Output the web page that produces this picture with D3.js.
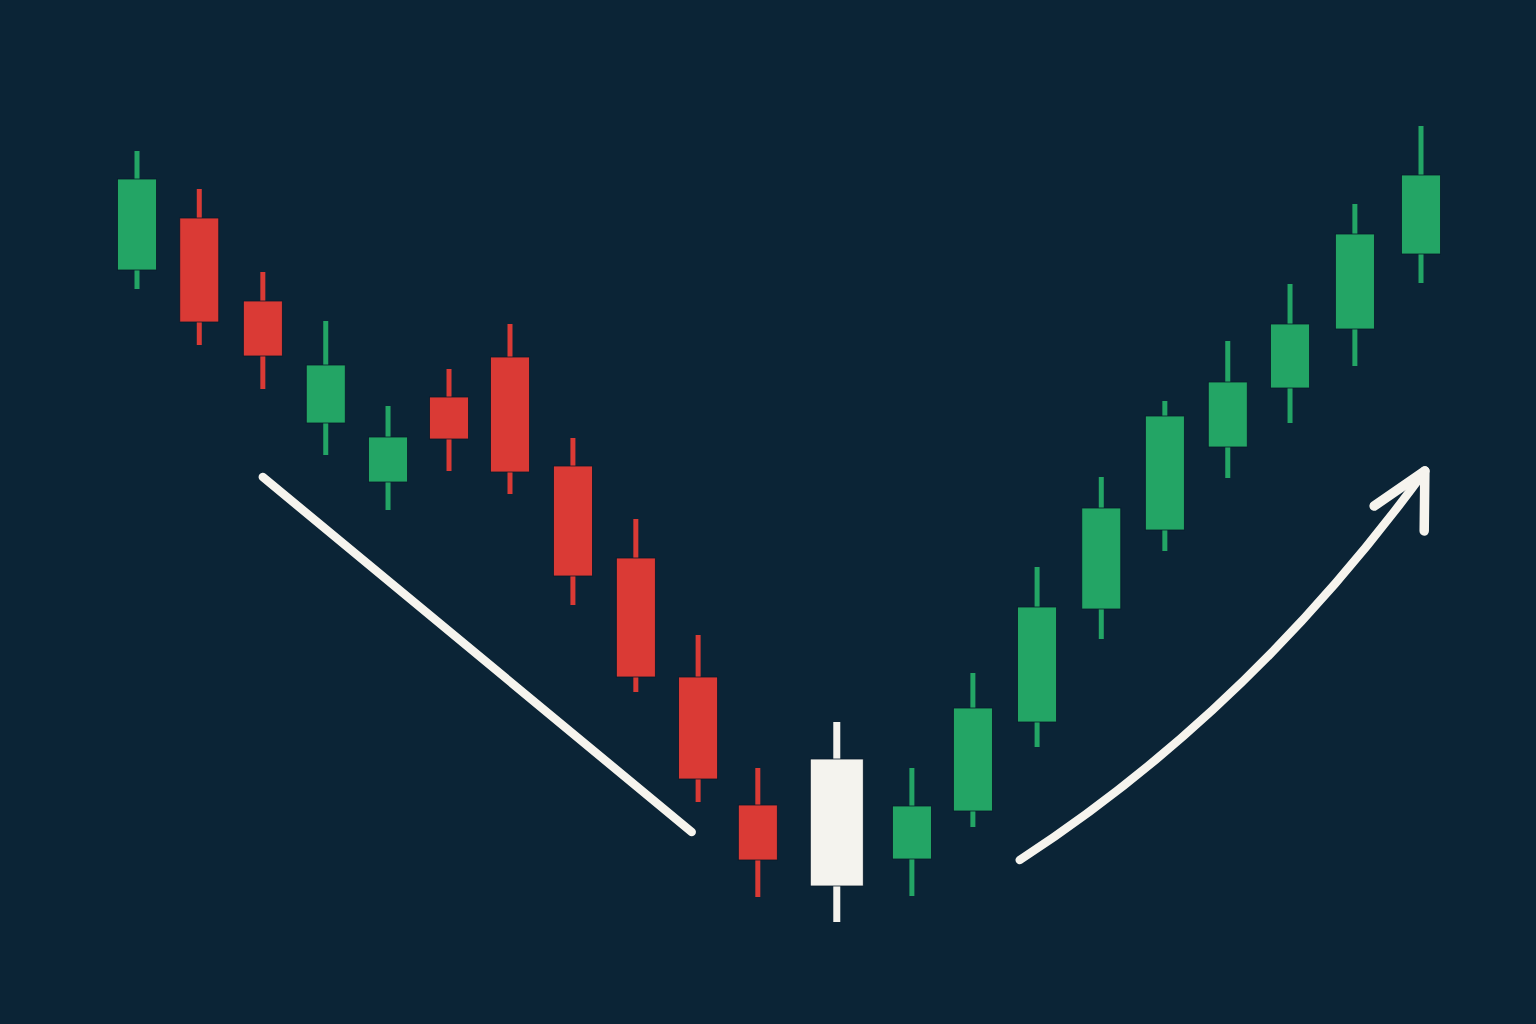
<!DOCTYPE html>
<html>
<head>
<meta charset="utf-8">
<script src="https://cdn.jsdelivr.net/npm/d3@7"></script>
<style>
  html, body { margin: 0; padding: 0; background: #0b2436; }
  svg { display: block; }
</style>
</head>
<body>
<div id="chart"></div>
<script>
// candle slots (slight gap around the pivot candle)
const slot  = [0, 0.97, 1.96, 2.94, 3.91, 4.86, 5.81, 6.79, 7.77, 8.74, 9.67,
               10.9, 12.07, 13.02, 14.02, 15.02, 16.01, 16.99, 17.96, 18.97, 20];
const open  = [73.0, 78.2, 69.9, 57.7, 51.8, 60.3, 64.3, 53.4, 44.2, 32.3, 19.5,
               11.4, 14.1, 18.9, 27.8, 39.1, 47.0, 55.3, 61.2, 67.1, 74.6];
const close = [82.1, 67.8, 64.4, 63.5, 56.3, 56.1, 52.8, 42.4, 32.3, 22.1, 14.0,
               24.1, 19.4, 29.2, 39.3, 49.2, 58.4, 61.8, 67.6, 76.6, 82.5];
const high  = [84.9, 81.1, 72.8, 67.9, 59.4, 63.1, 67.6, 56.2, 48.1, 36.5, 23.2,
               27.8, 23.2, 32.7, 43.3, 52.3, 59.9, 65.9, 71.6, 79.6, 87.4];
const low   = [71.1, 65.5, 61.1, 54.5, 49.0, 52.9, 50.6, 39.5, 30.8, 19.8, 10.3,
               7.8, 10.4, 17.3, 25.3, 36.1, 44.9, 52.2, 57.7, 63.4, 71.7];
const pivot = 11;   // the reversal candle drawn in white

// trend annotations in [slot, price]
const downTrend = [[1.96, 52.3], [8.64, 16.8]];
const upTrend   = [[13.75, 14.0], [17.34, 29.0], [20.06, 52.9]];  // start, control, end
const arrowHead = [[19.27, 49.4], [20.05, 46.9]];

const width = 1536, height = 1024;
const colors = { up: "#23a565", down: "#da3a35", pivot: "#f4f3ee", line: "#f6f4ee" };

const candles = slot.map((s, i) => ({
	s: s, o: open[i], c: close[i], h: high[i], l: low[i],
	kind: i === pivot ? "pivot" : (close[i] >= open[i] ? "up" : "down")
}));

const x = d3.scaleLinear().domain([0, 20]).range([137, 1421]);
const y = d3.scaleLinear().domain([0, 100]).range([1000, 0]);

const svg = d3.select("#chart").append("svg")
	.attr("width", width)
	.attr("height", height);

svg.append("rect")
	.attr("width", width)
	.attr("height", height)
	.attr("fill", "#0b2436");

const g = svg.append("g").classed("candles", true);

const candle = g.selectAll("g.candle")
	.data(candles)
	.join("g")
	.classed("candle", true);

// wicks (the pivot one is a bit heavier)
candle.append("rect")
	.attr("x", d => x(d.s) - (d.kind === "pivot" ? 3.5 : 2.5))
	.attr("width", d => d.kind === "pivot" ? 7 : 5)
	.attr("y", d => y(d.h))
	.attr("height", d => y(d.l) - y(d.h))
	.attr("fill", d => colors[d.kind]);

// bodies
candle.append("rect")
	.attr("x", d => x(d.s) - (d.kind === "pivot" ? 26.5 : 19.5))
	.attr("width", d => d.kind === "pivot" ? 53 : 39)
	.attr("y", d => y(Math.max(d.o, d.c)))
	.attr("height", d => Math.abs(y(d.o) - y(d.c)))
	.attr("fill", d => colors[d.kind])
	.attr("stroke", "#08192a")
	.attr("stroke-width", 0.8);

// down trend line
const ann = svg.append("g").classed("annotations", true)
	.attr("fill", "none")
	.attr("stroke", colors.line)
	.attr("stroke-width", 8.5)
	.attr("stroke-linecap", "round")
	.attr("stroke-linejoin", "round");

ann.append("line")
	.attr("x1", x(downTrend[0][0])).attr("y1", y(downTrend[0][1]))
	.attr("x2", x(downTrend[1][0])).attr("y2", y(downTrend[1][1]));

// up trend curve with arrow head
const p = d3.path();
p.moveTo(x(upTrend[0][0]), y(upTrend[0][1]));
p.quadraticCurveTo(x(upTrend[1][0]), y(upTrend[1][1]), x(upTrend[2][0]), y(upTrend[2][1]));
ann.append("path").attr("d", p.toString());

const tip = upTrend[2];
ann.selectAll("line.barb")
	.data(arrowHead)
	.join("line")
	.classed("barb", true)
	.attr("stroke-width", 9.5)
	.attr("x1", x(tip[0])).attr("y1", y(tip[1]))
	.attr("x2", d => x(d[0])).attr("y2", d => y(d[1]));
</script>
</body>
</html>
